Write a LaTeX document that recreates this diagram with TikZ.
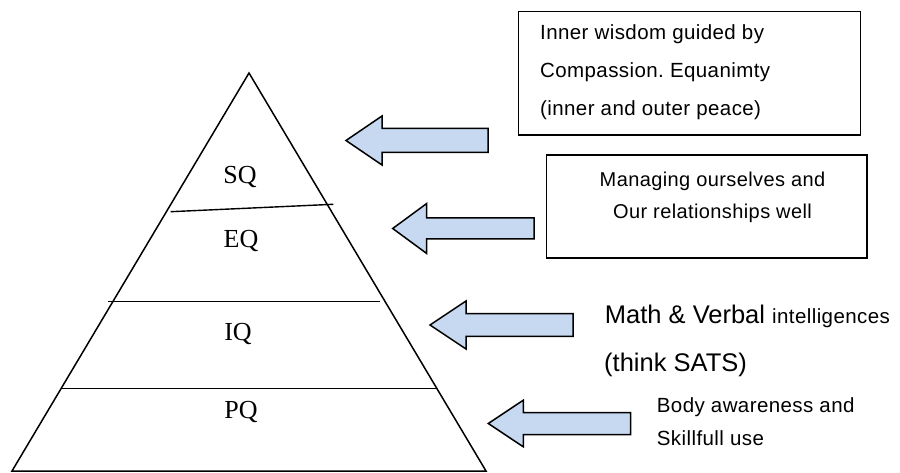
\documentclass[tikz,border=0pt]{standalone}
\usepackage{fontspec}
\setmainfont{Liberation Serif}
\newfontfamily\smallsans[LetterSpace=2]{Liberation Sans}
\newfontfamily\bigsans{Liberation Sans}
\definecolor{arrowblue}{HTML}{C6D9F1}
\frenchspacing
\newcommand\blockarrow[6]{% tipx, y, headx, tailx, headhalf, shafthalf
  \draw[arrowshape] (#1,#2) -- (#3,#2-#5) -- (#3,#2-#6) -- (#4,#2-#6)
    -- (#4,#2+#6) -- (#3,#2+#6) -- (#3,#2+#5) -- cycle;}
\tikzset{
  arrowshape/.style={draw=black, line width=1.5pt, fill=arrowblue, line join=miter},
  pyr/.style={line width=1.5pt, line join=miter},
  divider/.style={line width=1.4pt},
  layer/.style={font=\fontsize{26}{26}\selectfont, inner sep=0pt},
  textbox/.style={draw=black, line width=1.2pt, inner sep=0pt},
  smalltxt/.style={font=\smallsans\fontsize{20.5}{20.5}\selectfont, inner sep=0pt},
  boxtwotxt/.style={font=\smallsans\fontsize{20}{20}\selectfont, inner sep=0pt},
  bigtxt/.style={font=\bigsans\fontsize{25.5}{25.5}\selectfont, inner sep=0pt}
}
\begin{document}
\begin{tikzpicture}[x=1pt,y=-1pt]
\useasboundingbox (0,0) rectangle (900,473);
% pyramid
\coordinate (apex) at (249,73);
\coordinate (bl) at (12,471);
\coordinate (br) at (486,471);
\draw[pyr] (bl) -- (apex) -- (br) -- cycle;
% dividers
\coordinate (d1a) at (170.7,211.7); \coordinate (d1b) at (333.3,204.3);
\coordinate (d2a) at (108,301.7);   \coordinate (d2b) at (380,301.7);
\coordinate (d3a) at (61,388.3);    \coordinate (d3b) at (437,388.3);
\draw[divider] (d1a) -- (d1b);
\draw[divider] (d2a) -- (d2b);
\draw[divider] (d3a) -- (d3b);
% layer labels
\node[layer] (sq) at (240,177) {SQ};
\node[layer] (eq) at (241,241) {EQ};
\node[layer] (iq) at (238,334) {IQ};
\node[layer] (pq) at (241,412) {PQ};
% arrows
\blockarrow{346}{140.5}{382}{488}{24.5}{12}
\blockarrow{392.7}{228.5}{426.7}{534}{25}{10.5}
\blockarrow{430}{325}{466}{573}{24}{11.3}
\blockarrow{488.3}{423.5}{523.3}{630.7}{23.3}{11}
% box 1
\node[textbox, minimum width=342.4pt, minimum height=123.3pt] (box1) at (689.5,73.35) {};
\node[smalltxt, anchor=base west] (t1a) at (540,40) {Inner wisdom guided by};
\node[smalltxt, anchor=base west] (t1b) at (540,78) {Compassion. Equanimty};
\node[smalltxt, anchor=base west] (t1c) at (540,116) {(inner and outer peace)};
% box 2
\node[textbox, minimum width=320.3pt, minimum height=103pt] (box2) at (706.85,206.5) {};
\node[boxtwotxt, anchor=base] (t2a) at (712.5,186.7) {Managing ourselves and};
\node[boxtwotxt, anchor=base] (t2b) at (712.5,218.3) {Our relationships well};
% free text 3
\node[anchor=base west, inner sep=0pt] (t3a) at (604.7,323.3)
  {\bigsans\fontsize{25.5}{25.5}\selectfont Math \& Verbal {\smallsans\fontsize{20.5}{20.5}\selectfont intelligences}};
\node[bigtxt, anchor=base west] (t3b) at (604,371.7) {(think SATS)};
% free text 4
\node[smalltxt, anchor=base west] (t4a) at (656.7,412) {Body awareness and};
\node[smalltxt, anchor=base west] (t4b) at (656.7,445) {Skillfull use};
\end{tikzpicture}
\end{document}
